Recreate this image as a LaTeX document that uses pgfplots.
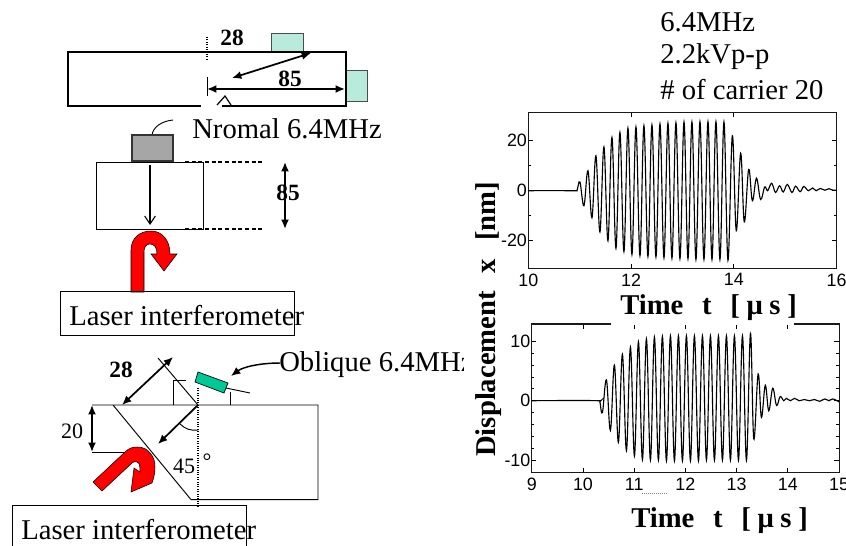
\documentclass[border=0pt]{standalone}
\usepackage{fontspec}
\setmainfont{Liberation Serif}
\setsansfont{Liberation Sans}
\usepackage{pgfplots}
\pgfplotsset{compat=1.18}
\usetikzlibrary{arrows.meta}
\definecolor{teal1}{HTML}{B8EBDC}
\definecolor{teal2}{HTML}{00C896}
\definecolor{gray1}{HTML}{A6A6A6}
\newcommand{\bigf}{\fontsize{21.5}{24}\selectfont}
\newcommand{\midf}{\fontsize{17.5}{20}\selectfont}
\pgfplotsset{wave/.style={
  scale only axis, anchor=north west, axis line style={line width=0.8pt,black!90},
  tick align=inside, tick style={black,line width=0.6pt},
  major tick length=3.5pt, minor tick length=2pt,
  tick label style={font=\sffamily\fontsize{13.4}{15}\selectfont, /pgf/number format/assume math mode=true},
  xticklabel style={yshift=-0.5pt}, yticklabel style={xshift=2.5pt},
  clip=true
}}
\tikzset{
  dbl/.style={line width=1.3pt,{Latex[length=7pt,width=6pt]}-{Latex[length=7pt,width=6pt]}},
  sgl/.style={line width=1.3pt,-{Latex[length=7pt,width=6pt]}},
  thin1/.style={line width=0.7pt}
}
\begin{document}
\begin{tikzpicture}[x=0.75pt,y=-0.75pt]
\useasboundingbox (0,0) rectangle (846,546);
\fill[white] (0,0) rectangle (846,546);
\begin{scope}
\clip (0,0) rectangle (846,546);

% ---------- upper waveform
\begin{axis}[wave, at={(396.2pt,-84.5pt)}, width=231.3pt, height=116.7pt,
  xmin=10,xmax=16,ymin=-31,ymax=31.2, xtick={10,12,14,16}, ytick={-20,0,20},
  minor y tick num=1]
\addplot[black,line width=0.85pt,smooth,tension=0.62] coordinates {
(10,0)(10.5,0.05)(10.9,0)(10.95,0.3)
(11.005,3.5)(11.083,-6)(11.161,8)(11.239,-10.8)(11.316,14)(11.394,-16.5)
(11.472,17.5)(11.55,-20)(11.628,21.3)(11.706,-23)(11.783,23.3)(11.861,-24.3)
(11.939,25)(12.017,-25.5)(12.095,25.5)(12.173,-26)(12.25,26)(12.328,-26.3)
(12.406,26.3)(12.484,-26.5)(12.562,26.7)(12.64,-26.8)(12.717,27)(12.795,-27)
(12.873,27.2)(12.951,-27.2)(13.03,27.5)(13.107,-27.2)(13.184,27.5)(13.262,-27.5)
(13.34,27.6)(13.418,-27.5)(13.496,27.6)(13.574,-27.5)(13.651,27.6)(13.729,-27.5)
(13.807,27.5)(13.885,-27.8)(13.97,22)(14.047,-16)(14.132,15)(14.203,-12.5)
(14.288,8.5)(14.36,-4)(14.44,5)(14.52,-3.5)(14.6,1.5)(14.657,0)(14.735,3)
(14.81,-0.7)(14.89,2)(14.96,-0.5)(15.04,2.5)(15.13,-0.7)(15.2,1.8)(15.29,-0.4)
(15.36,1.7)(15.45,0)(15.53,1.1)(15.6,0)(15.68,0.9)(15.77,0.2)(15.85,0.8)(15.93,0.2)(16,0.3)
};
\end{axis}

% ---------- lower waveform
\begin{axis}[wave, at={(398.8pt,-243pt)}, width=230.5pt, height=111.5pt,
  xmin=9,xmax=15,ymin=-12.1,ymax=12.9, xtick={9,10,...,15}, ytick={-10,0,10},
  minor y tick num=4]
\addplot[black,line width=0.85pt,smooth,tension=0.62] coordinates {
(9,0)(9.7,0.03)(10.3,0)(10.33,-0.2)
(10.38,-2)(10.458,3.5)(10.536,-5)(10.614,6)(10.692,-7)(10.77,7.8)(10.849,-8.4)
(10.927,9)(11.005,-9.3)(11.083,9.9)(11.161,-9.9)(11.239,10.4)(11.317,-10)
(11.395,10.7)(11.473,-10)(11.551,10.8)(11.63,-10.1)(11.708,10.9)(11.786,-10.1)
(11.864,10.9)(11.942,-10.1)(12.02,10.9)(12.098,-10.1)(12.176,10.9)(12.255,-10.1)
(12.333,10.9)(12.411,-10)(12.489,10.9)(12.567,-10)(12.645,10.9)(12.723,-10)
(12.801,10.9)(12.879,-10)(12.957,10.9)(13.036,-10)(13.114,10.9)(13.192,-10)
(13.27,11.3)(13.335,-6.4)(13.42,4.5)(13.484,-2.8)(13.56,2.6)(13.627,-1.7)
(13.705,2.1)(13.78,-0.8)(13.85,0.7)(13.92,0)(13.97,0.4)(14.05,0)(14.13,0.4)
(14.22,0)(14.32,0.2)(14.42,0)(14.52,0.2)(14.62,-0.1)(14.72,0.3)(14.8,0)(14.88,0.3)(15,-0.2)
};
\end{axis}

% gap in the top edge of the lower plot, left by the label above it
\fill[white] (611,322.5) rectangle (794,325);

% texts at right
\node[anchor=west,inner sep=0,font=\bigf] at (660,22) {6.4MHz};
\node[anchor=west,inner sep=0,font=\bigf] at (660,57) {2.2kVp-p};
\node[anchor=west,inner sep=0,font=\bigf] at (660,90) {\# of carrier 20};

% axis titles
\node[anchor=west,inner sep=0,font=\bigf\bfseries] at (620,308) {Time\hspace{14pt}t\hspace{14pt}[\hspace{5pt}μ\hspace{5pt}s\hspace{5pt}]};
\node[anchor=west,inner sep=0,font=\bigf\bfseries] at (631,521) {Time\hspace{14pt}t\hspace{14pt}[\hspace{5pt}μ\hspace{5pt}s\hspace{5pt}]};
\node[anchor=west,inner sep=0,font=\bigf\bfseries,rotate=90] at (489,457) {Displacement\hspace{13.5pt}x\hspace{13.5pt}[nm]};
\draw[gray,line width=0.5pt,densely dotted] (642,493.5)--(667,493.5);

% ---------- top plate
\fill[teal1,draw=black!70,line width=0.6pt] (271.5,33) rectangle (303,52);
\fill[teal1,draw=black!70,line width=0.6pt] (346,70) rectangle (367,101);
\draw[line width=1.8pt] (201,106)--(68,106)--(68,52)--(346,52)--(346,106)--(222,106);
\draw[line width=0.9pt] (217,105)--(225,96)--(231,105);
\draw[line width=0.8pt,densely dotted] (207,37)--(207,60);
\draw[thin1] (207,77)--(207,96);
\draw[dbl] (311,53)--(232,78);
\draw[dbl] (207,89)--(345,89);
\node[font=\midf\bfseries,inner sep=0] at (232,38) {28};
\node[font=\midf\bfseries,inner sep=0] at (290,79) {85};

% ---------- normal probe
\node[anchor=west,inner sep=0,font=\bigf] at (192,129) {Nromal 6.4MHz};
\draw[thin1] (173,120) .. controls (162,121) and (153,127) .. (152,135);
\fill[gray1,draw=black!80,line width=0.8pt] (132,135) rectangle (173,161);
\draw[line width=0.7pt] (96,162) rectangle (203,229);
\draw[line width=0.8pt,densely dashed] (185,162)--(263,162) (185,229)--(263,229);
\draw[line width=0.8pt,-{Straight Barb[length=6pt,width=8pt]}] (150,165)--(150,225);
\draw[dbl] (285,162)--(285,229);
\node[font=\midf\bfseries,inner sep=0] at (288,193) {85};
\fill[red,draw=black,line width=0.4pt] (131,292)--(131,250)
  .. controls (131,238) and (140,231) .. (151,231)
  .. controls (162,231) and (170,240) .. (170,254)
  --(177,254)--(164,271)--(151,254)--(157,254)
  .. controls (157,247) and (154,244) .. (150,244)
  .. controls (146,244) and (144,247) .. (144,252)
  --(144,292)--cycle;
\draw[line width=0.7pt] (60,291) rectangle (294,335);
\node[anchor=west,inner sep=0,font=\bigf] at (69,316) {Laser interferometer};

% ---------- oblique probe
\draw[line width=0.7pt] (92,405)--(318,405)--(318,499.6)--(191,499.6)--(113,405);
\draw[line width=0.7pt] (92,452.5)--(150,452.5);
\draw[dbl] (92,405)--(92,452);
\node[font=\fontsize{16.5}{19}\selectfont,inner sep=0] at (72,431) {20};
\node[font=\midf\bfseries,inner sep=0] at (121,370) {28};
\draw[dbl] (122,405)--(173,357);
\draw[thin1] (158,358)--(198,405);
\draw[thin1] (173,405)--(173,380.5)--(186,380.5);
\draw[line width=0.8pt,densely dotted] (198,388)--(198,507);
\fill[teal2,draw=black,line width=0.5pt] (198,372)--(228,383)--(224,393)--(195,382)--cycle;
\draw[thin1] (226,388)--(250,393);
\draw[thin1] (230,392)--(230,405);
\draw[line width=1.1pt,-{Latex[length=7pt,width=6pt]}] (280,363) .. controls (260,363) and (243,367) .. (231,376);
\draw[sgl] (198,405)--(158,444);
\draw[thin1] (180,424) .. controls (185,429) and (191,431) .. (198,430);
\begin{scope}
\clip (0,340) rectangle (463,400);
\node[anchor=west,inner sep=0,font=\bigf] at (279,365) {Oblique 6.4MHz};
\end{scope}
\node[font=\fontsize{16.5}{19}\selectfont,inner sep=0] at (184,466) {45};
\node[font=\fontsize{16.5}{19}\selectfont,inner sep=0] at (207,461) {°};
\fill[red,draw=black,line width=0.4pt] (93,482)--(125,452)
  .. controls (129,448) and (133,447) .. (137,447)
  .. controls (143,447) and (147,449) .. (150,453)
  .. controls (154,457) and (155,462) .. (155,467)
  .. controls (155,473) and (154,477) .. (152,483)
  --(131,492)--(134,468)--(140,472)
  .. controls (140,467) and (140,463) .. (137,462)
  .. controls (135,461) and (133,462) .. (132,463)
  --(102,491)--cycle;
\draw[line width=0.7pt] (12,560)--(12,505)--(246,505)--(246,560);
\node[anchor=west,inner sep=0,font=\bigf] at (21,530) {Laser interferometer};
\end{scope}
\end{tikzpicture}
\end{document}
